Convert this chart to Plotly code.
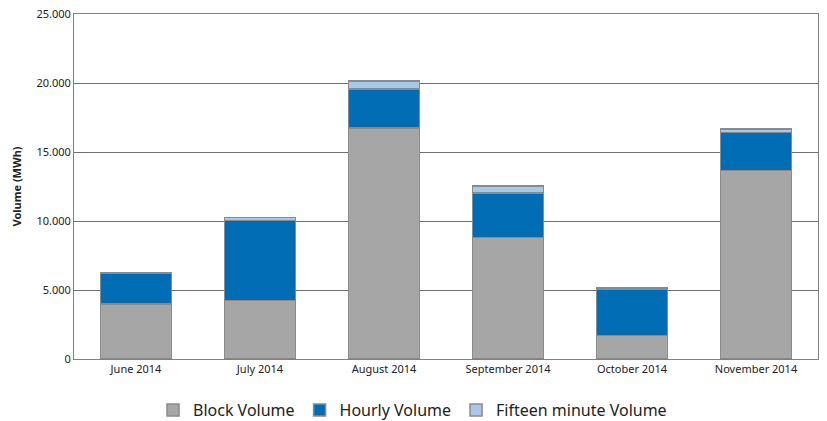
import plotly.graph_objects as go

months = ["June 2014", "July 2014", "August 2014", "September 2014", "October 2014", "November 2014"]
block_volume = [4000, 4250, 16750, 8800, 1700, 13650]
hourly_volume = [2200, 5800, 2800, 3230, 3350, 2750]
fifteen_volume = [60, 200, 600, 500, 80, 250]

series = [
    ("Block Volume", block_volume, "#a6a6a6"),
    ("Hourly Volume", hourly_volume, "#006db5"),
    ("Fifteen minute Volume", fifteen_volume, "#a9c7ea"),
]

fig = go.Figure()
for name, vals, col in series:
    fig.add_trace(go.Bar(
        x=months, y=vals, name=name,
        marker=dict(color=col, line=dict(color="#8a8a8a", width=1.5)),
    ))

fig.update_layout(
    barmode="stack",
    bargap=0.43,
    width=827, height=421,
    margin=dict(l=74, r=9, t=14, b=62, autoexpand=False),
    paper_bgcolor="white", plot_bgcolor="white",
    separators=",.",
    font=dict(family="Noto Sans", color="#222222", size=11),
    legend=dict(orientation="h", x=0.455, xanchor="center", y=-0.148, yanchor="middle",
                font=dict(size=16, color="#222222"), itemwidth=30, traceorder="normal",
                tracegroupgap=0),
    xaxis=dict(showline=True, linecolor="#808080", linewidth=1, mirror=True,
               ticks="", tickfont=dict(size=11), automargin=False),
    yaxis=dict(range=[0, 25000], dtick=5000, tickformat=",d",
               showgrid=True, gridcolor="#707070", gridwidth=1,
               showline=True, linecolor="#808080", linewidth=1, mirror=True,
               title=dict(text="<b>Volume (MWh)</b>", font=dict(size=11), standoff=12),
               tickfont=dict(size=11), zeroline=False, automargin=False,
               ticklabeloverflow="allow"),
)
fig.write_html("out.html", config={"displayModeBar": False},
               post_script="document.body.style.margin='0';")
